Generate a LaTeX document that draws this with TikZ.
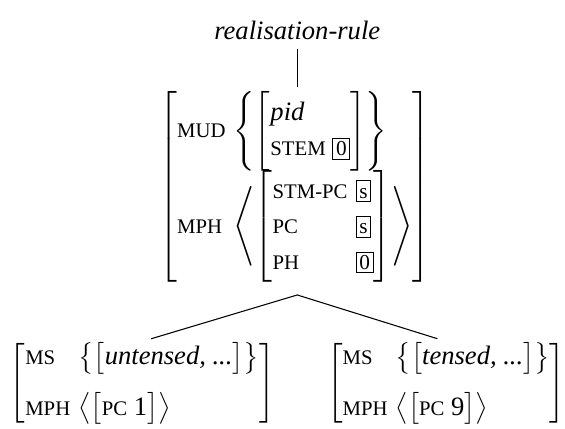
\documentclass[tikz,border=0pt]{standalone}
\usepackage{amsmath}
\usepackage{fontspec}
\setmainfont{Liberation Serif}

\newcommand{\feat}[1]{\mbox{\fontsize{7.8}{9}\selectfont\MakeUppercase{#1}}}
\newcommand{\tagbox}[1]{{\setlength{\fboxsep}{1pt}\fbox{\footnotesize\vphantom{0}#1}}}

\begin{document}
\begin{tikzpicture}[type/.style={font=\itshape},avm/.style={inner sep=0pt},edge/.style={thin}]
\useasboundingbox (0,0) rectangle (7.47,-5.67);
\node[type] (rule) at (3.93,-0.40) {realisation-rule};
\node[avm] (top) at (3.90,-2.47) {\setlength{\arraycolsep}{1.5pt}\renewcommand{\arraystretch}{1.12}$\left[\begin{array}{@{}ll@{}}
 \feat{mud} & \left\{\left[\begin{array}{@{}l@{}} \textit{pid}\\ \feat{stem}\ \tagbox{0}\end{array}\right]\right\}\\[5pt]
 \feat{mph} & \left\langle\left[\begin{array}{@{}l@{\hspace{3pt}}l@{}} \feat{stm-pc} & \tagbox{s}\\ \feat{pc} & \tagbox{s}\\ \feat{ph} & \tagbox{0}\end{array}\right]\right\rangle
 \end{array}\right]$};
\coordinate (fork) at (3.93,-3.90);
\node[avm] (untensed) at (1.88,-5.07) {\setlength{\arraycolsep}{1.5pt}$\left[\begin{array}{@{}ll@{}}
 \feat{ms} & \bigl\{\bigl[\textit{untensed, ...}\bigr]\bigr\}\\[7pt]
 \feat{mph} & \bigl\langle\bigl[\feat{pc}\ \mbox{1}\bigr]\bigr\rangle
 \end{array}\right]$};
\node[avm] (tensed) at (5.90,-5.07) {\setlength{\arraycolsep}{1.5pt}$\left[\begin{array}{@{}ll@{}}
 \feat{ms} & \bigl\{\bigl[\textit{tensed, ...}\bigr]\bigr\}\\[7pt]
 \feat{mph} & \bigl\langle\bigl[\feat{pc}\ \mbox{9}\bigr]\bigr\rangle
 \end{array}\right]$};
\draw[edge,shorten >=1.5pt] (rule.south) -- (rule.south |- top.north);
\draw[edge,shorten <=3.5pt,shorten >=3.5pt] (untensed.north) -- (fork) -- (tensed.north);
\end{tikzpicture}
\end{document}
